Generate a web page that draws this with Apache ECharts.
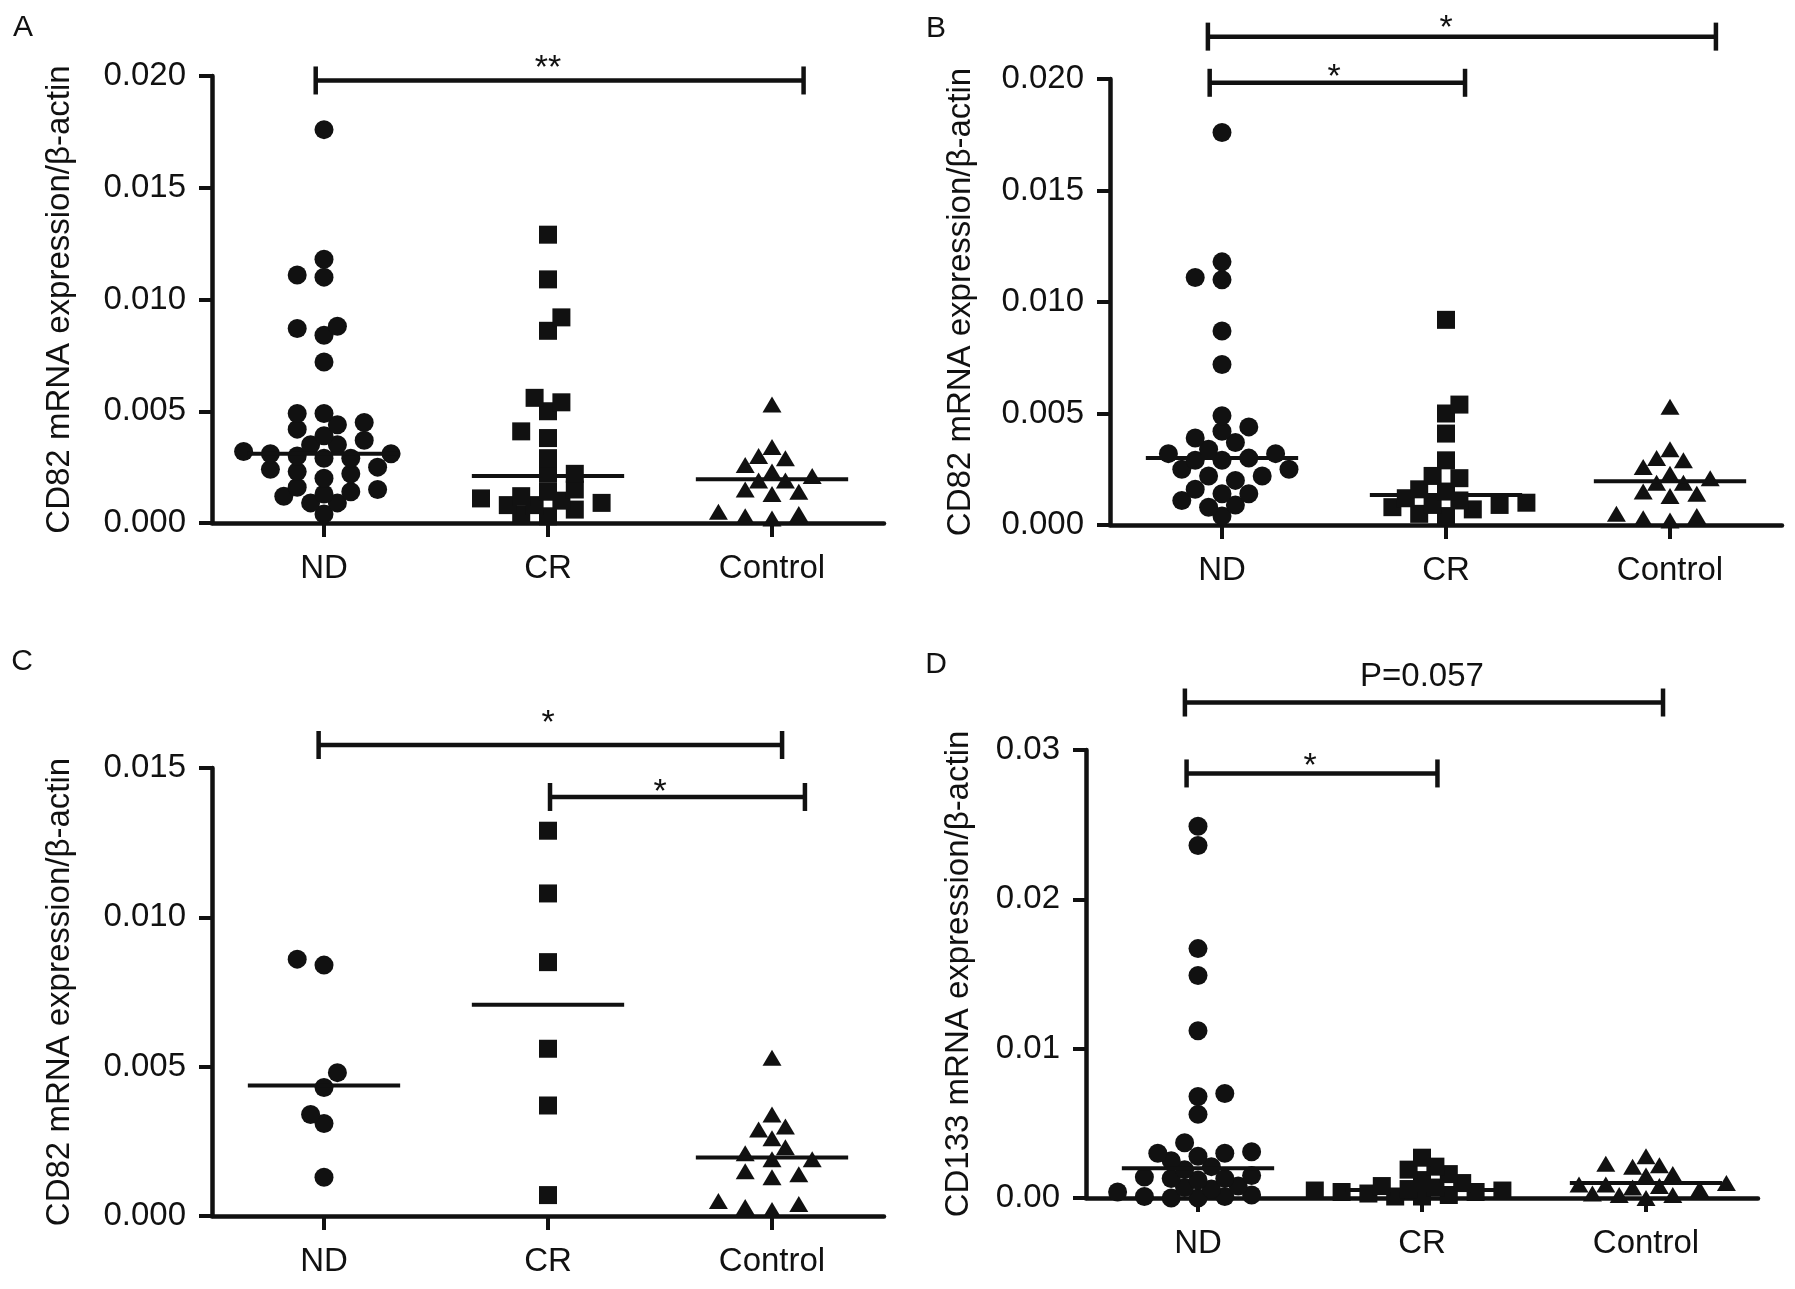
<!DOCTYPE html>
<html>
<head>
<meta charset="utf-8">
<script src="https://cdn.jsdelivr.net/npm/echarts@6/dist/echarts.min.js"></script>
<style>
  html, body { margin: 0; padding: 0; background: #fff; }
  #chart { width: 1795px; height: 1289px; }
</style>
</head>
<body>
<div id="chart"></div>
<script>
// groups on the x axis (x = 1, 2, 3)
const groups = ['ND', 'CR', 'Control'];

// A: CD82 / beta-actin, all patients
const ndA = [0.0176, 0.0118, 0.0111, 0.0110, 0.0088, 0.0087, 0.0084, 0.0072, 0.0049, 0.0049,
  0.0045, 0.0044, 0.0042, 0.0039, 0.0037, 0.0035, 0.0035, 0.0032, 0.0031, 0.0031, 0.0030,
  0.0029, 0.0029, 0.0025, 0.0024, 0.0023, 0.0022, 0.0020, 0.0016, 0.0015, 0.0014, 0.0013,
  0.0012, 0.0009, 0.0009, 0.0004];
const crA = [0.0129, 0.0109, 0.0092, 0.0086, 0.0056, 0.0054, 0.0050, 0.0041, 0.0038, 0.0029,
  0.0022, 0.0022, 0.0015, 0.0014, 0.0012, 0.0011, 0.0010, 0.0009, 0.0008, 0.0008, 0.0006,
  0.0004, 0.0003];
// controls are the same in A, B and C
const controlCD82 = [0.0053, 0.0034, 0.0030, 0.0029, 0.0026, 0.0023, 0.0021, 0.0019, 0.0019,
  0.0015, 0.0014, 0.0013, 0.0005, 0.0004, 0.0003, 0.0002];
const mediansA = [0.0031, 0.0021, 0.00196];

// B: CD82 / beta-actin
const ndB = [0.0176, 0.0118, 0.0111, 0.0110, 0.0087, 0.0072, 0.0049, 0.0044, 0.0042, 0.0039,
  0.0037, 0.0034, 0.0032, 0.0032, 0.0030, 0.0029, 0.0029, 0.0025, 0.0025, 0.0022, 0.0022,
  0.0020, 0.0016, 0.0014, 0.0014, 0.0011, 0.0009, 0.0008, 0.0004];
const crB = [0.0092, 0.0054, 0.0050, 0.0041, 0.0029, 0.0022, 0.0021, 0.0016, 0.0015, 0.0012,
  0.0011, 0.0010, 0.0009, 0.0009, 0.0008, 0.0007, 0.0005, 0.0004];
const mediansB = [0.0030, 0.00135, 0.00196];

// C: CD82 / beta-actin
const ndC = [0.0086, 0.0084, 0.0048, 0.0043, 0.0034, 0.0031, 0.0013];
const crC = [0.0129, 0.0108, 0.0085, 0.0056, 0.0037, 0.0007];
const mediansC = [0.00437, 0.00707, 0.00196];

// D: CD133 / beta-actin
const ndD = [0.0249, 0.0236, 0.0167, 0.0149, 0.0112, 0.0070, 0.0068, 0.0056, 0.0037, 0.0031,
  0.0030, 0.0030, 0.0028, 0.0025, 0.0021, 0.0019, 0.0015, 0.0014, 0.0013, 0.0013, 0.0012,
  0.0008, 0.0007, 0.0006, 0.0004, 0.0002, 0.0001, 0.0001, 0.0000, 0.0000];
const crD = [0.0027, 0.0021, 0.0019, 0.0016, 0.0012, 0.0010, 0.0008, 0.0007, 0.0006, 0.0005,
  0.0005, 0.0004, 0.0004, 0.0003, 0.0002, 0.0001, 0.0001];
const controlD = [0.0028, 0.0023, 0.0022, 0.0021, 0.0016, 0.0015, 0.0010, 0.0009, 0.0009,
  0.0008, 0.0007, 0.0006, 0.0003, 0.0002, 0.0002, 0.0000];
const mediansD = [0.0020, 0.00053, 0.0010];

// significance brackets: [x start, x end, bar value, label x, label value]
const bracketsA = [[0.963, 3.141, 0.0198, 2.0, 0.0207]];
const bracketLabelsA = ['**'];
const bracketsB = [[0.937, 3.205, 0.0219, 2.0, 0.02262], [0.945, 2.085, 0.01983, 1.5, 0.0204]];
const bracketLabelsB = ['*', '*'];
const bracketsC = [[0.976, 3.045, 0.01577, 2.0, 0.01677], [2.009, 3.147, 0.01403, 2.5, 0.01443]];
const bracketLabelsC = ['*', '*'];
const bracketsD = [[0.9415, 3.076, 0.03318, 2.0, 0.03489], [0.949, 2.069, 0.02843, 1.5, 0.02944]];
const bracketLabelsD = ['P=0.057', '*'];

const INK = '#111';
const FONT = '"Liberation Sans", Arial, sans-serif';
const symbols = ['circle', 'rect', 'triangle'];
const symbolSizes = [19, 18, [19, 16]];
const MEDIAN_HALF = 0.34;

const panels = [
  { letter: 'A', letterXY: [23, 28], grid: { left: 212, top: 76, width: 672, height: 447 },
    yMax: 0.02, yStep: 0.005, digits: 3, title: 'CD82 mRNA expression/β-actin', gap: 136,
    values: [ndA, crA, controlCD82], medians: mediansA, brackets: bracketsA, labels: bracketLabelsA },
  { letter: 'B', letterXY: [936, 29], grid: { left: 1110, top: 79, width: 672, height: 446 },
    yMax: 0.02, yStep: 0.005, digits: 3, title: 'CD82 mRNA expression/β-actin', gap: 133,
    values: [ndB, crB, controlCD82], medians: mediansB, brackets: bracketsB, labels: bracketLabelsB },
  { letter: 'C', letterXY: [22, 662], grid: { left: 212, top: 768, width: 672, height: 448 },
    yMax: 0.015, yStep: 0.005, digits: 3, title: 'CD82 mRNA expression/β-actin', gap: 136,
    values: [ndC, crC, controlCD82], medians: mediansC, brackets: bracketsC, labels: bracketLabelsC },
  { letter: 'D', letterXY: [936, 665], grid: { left: 1086, top: 750, width: 672, height: 448 },
    yMax: 0.03, yStep: 0.01, digits: 2, title: 'CD133 mRNA expression/β-actin', gap: 111,
    values: [ndD, crD, controlD], medians: mediansD, brackets: bracketsD, labels: bracketLabelsD },
];

const chart = echarts.init(document.getElementById('chart'), null, { renderer: 'canvas' });

const grids = panels.map((p) => p.grid);
const xAxes = panels.map((p, i) => ({
  type: 'value',
  gridIndex: i,
  min: 0.5,
  max: 3.5,
  splitLine: { show: false },
  axisLine: { lineStyle: { color: INK, width: 4.5 } },
  axisTick: { customValues: [1, 2, 3], length: 14, lineStyle: { color: INK, width: 4 } },
  axisLabel: {
    customValues: [1, 2, 3],
    formatter: (v) => groups[Math.round(v) - 1],
    margin: 29,
    color: INK,
    fontFamily: FONT,
    fontSize: 33,
  },
}));
const yAxes = panels.map((p, i) => ({
  type: 'value',
  gridIndex: i,
  min: 0,
  max: p.yMax,
  interval: p.yStep,
  name: p.title,
  nameLocation: 'middle',
  nameRotate: 90,
  nameGap: p.gap,
  nameTextStyle: { color: INK, fontFamily: FONT, fontSize: 33 },
  splitLine: { show: false },
  axisLine: { show: true, lineStyle: { color: INK, width: 4.5 } },
  axisTick: { show: true, length: 13, lineStyle: { color: INK, width: 4 } },
  axisLabel: {
    formatter: (v) => v.toFixed(p.digits),
    margin: 26,
    showMinLabel: true,
    showMaxLabel: true,
    color: INK,
    fontFamily: FONT,
    fontSize: 33,
  },
}));

chart.setOption({
  backgroundColor: '#fff',
  animation: false,
  grid: grids,
  xAxis: xAxes,
  yAxis: yAxes,
  graphic: panels.map((p) => ({
    type: 'text',
    x: p.letterXY[0],
    y: p.letterXY[1],
    style: { text: p.letter, fill: INK, font: '30px ' + FONT, align: 'center', verticalAlign: 'middle' },
  })),
});

// spread a group's points sideways like a dot plot, so markers don't pile up
function swarm(values, center, gridIndex) {
  const STEP = 13.4;
  const MIN_DIST = 15;
  const p0 = chart.convertToPixel({ gridIndex }, [center, 0]);
  const p1 = chart.convertToPixel({ gridIndex }, [center + 1, 0]);
  const unitPx = p1[0] - p0[0];
  const order = values.map((v, i) => i).sort((a, b) => values[a] - values[b]);
  const placed = [];
  const out = [];
  let left = 0;
  let right = 0;
  const free = (cand, py) =>
    placed.every((q) => (q[0] - cand) ** 2 + (q[1] - py) ** 2 >= MIN_DIST * MIN_DIST);
  order.forEach((idx) => {
    const py = chart.convertToPixel({ gridIndex }, [center, values[idx]])[1];
    let dx = 0;
    if (!free(0, py)) {
      for (let k = 1; k < 20; k++) {
        // try the lighter side first so the cloud stays centred
        const sides = left <= right ? [-1, 1] : [1, -1];
        const s = sides.find((sd) => free(sd * k * STEP, py));
        if (s) { dx = s * k * STEP; break; }
      }
    }
    if (dx < 0) left++;
    if (dx > 0) right++;
    placed.push([dx, py]);
    out.push([center + dx / unitPx, values[idx]]);
  });
  return out;
}

const series = [];
panels.forEach((p, gi) => {
  p.values.forEach((vals, k) => {
    series.push({
      type: 'scatter',
      xAxisIndex: gi,
      yAxisIndex: gi,
      symbol: symbols[k],
      symbolSize: symbolSizes[k],
      itemStyle: { color: INK, opacity: 1 },
      data: swarm(vals, k + 1, gi),
      z: 3,
    });
  });
  series.push({
    type: 'custom',
    xAxisIndex: gi,
    yAxisIndex: gi,
    data: p.medians.map((m, k) => [k + 1, m]),
    z: 4,
    renderItem: (params, api) => {
      const a = api.coord([api.value(0) - MEDIAN_HALF, api.value(1)]);
      const b = api.coord([api.value(0) + MEDIAN_HALF, api.value(1)]);
      return {
        type: 'line',
        shape: { x1: a[0], y1: a[1], x2: b[0], y2: b[1] },
        style: { stroke: INK, lineWidth: 4 },
      };
    },
  });
  series.push({
    type: 'custom',
    xAxisIndex: gi,
    yAxisIndex: gi,
    data: p.brackets,
    z: 4,
    renderItem: (params, api) => {
      const a = api.coord([api.value(0), api.value(2)]);
      const b = api.coord([api.value(1), api.value(2)]);
      const t = api.coord([api.value(3), api.value(4)]);
      const text = p.labels[params.dataIndex];
      const cap = 14;
      const style = { stroke: INK, lineWidth: 4.5 };
      const star = text.indexOf('*') >= 0;
      return {
        type: 'group',
        children: [
          { type: 'line', shape: { x1: a[0], y1: a[1], x2: b[0], y2: b[1] }, style },
          { type: 'line', shape: { x1: a[0], y1: a[1] - cap, x2: a[0], y2: a[1] + cap }, style },
          { type: 'line', shape: { x1: b[0], y1: b[1] - cap, x2: b[0], y2: b[1] + cap }, style },
          {
            type: 'text',
            x: t[0],
            y: t[1] + (star ? 8 : 0),
            style: {
              text,
              fill: INK,
              font: (star ? '34px ' : '33px ') + FONT,
              align: 'center',
              verticalAlign: 'middle',
            },
          },
        ],
      };
    },
  });
});

chart.setOption({ series });
</script>
</body>
</html>
